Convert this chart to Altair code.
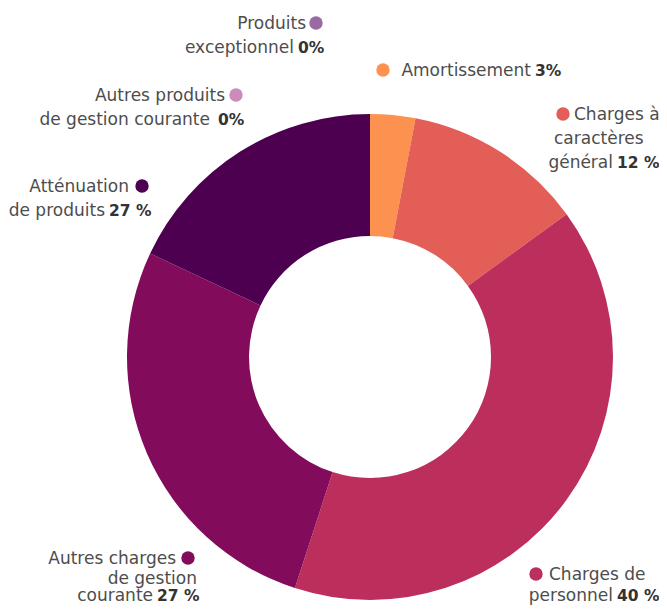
import altair as alt
import pandas as pd

# ---- data ----
categories = ["Amortissement", "Charges à caractères général", "Charges de personnel",
              "Autres charges de gestion courante", "Atténuation de produits",
              "Autres produits de gestion courante", "Produits exceptionnel"]
values = [3, 12, 40, 27, 18, 0, 0]
colors = ["#FD914F", "#E25E57", "#BC2F5C", "#820C5B", "#4D004F", "#CC8BBB", "#9A6AA3"]
pct_labels = ["3%", "12 %", "40 %", "27 %", "27 %", "0%", "0%"]

df = pd.DataFrame({"cat": categories, "val": values, "ord": list(range(len(categories)))})

# ---- layout (pixel positions of annotations, chart coords) ----
OX, OY = -8, -8
CX, CY = 370 + OX, 357 + OY

FONT = "DejaVu Sans"
FS = 17
FSB = 15.5
NORMAL = "#4d4d4d"
BOLD = "#333333"

# text pieces: (text, x, y, align, bold)
pieces = [
    ("Produits", 306, 24, "right", False),
    ("exceptionnel", 294, 48, "right", False),
    (pct_labels[6], 298, 48, "left", True),

    ("Autres produits", 225, 96, "right", False),
    ("de gestion courante", 210, 120, "right", False),
    (pct_labels[5], 218, 120, "left", True),

    ("Amortissement", 531, 71, "right", False),
    (pct_labels[0], 535, 71, "left", True),

    ("Charges à", 574, 115, "left", False),
    ("caractères", 554, 139, "left", False),
    ("général", 613, 163, "right", False),
    (pct_labels[1], 617, 163, "left", True),

    ("Atténuation", 129, 187, "right", False),
    ("de produits", 105, 211, "right", False),
    (pct_labels[4], 109, 211, "left", True),

    ("Autres charges", 176, 559, "right", False),
    ("de gestion", 197, 579, "right", False),
    ("courante", 153, 596, "right", False),
    (pct_labels[3], 157, 596, "left", True),

    ("Charges de", 549, 575, "left", False),
    ("personnel", 613, 596, "right", False),
    (pct_labels[2], 617, 596, "left", True),
]
dots = [  # (category index, x, y)
    (6, 316, 23), (5, 236, 95), (0, 383, 70), (1, 563, 114),
    (4, 142, 186), (3, 188, 558), (2, 536, 574),
]

tp = pd.DataFrame([{"t": t, "x": x + OX, "y": y + OY, "align": a, "bold": b}
                   for (t, x, y, a, b) in pieces])
dp = pd.DataFrame([{"cat": categories[i], "x": x + OX, "y": y + OY} for (i, x, y) in dots])

color_scale = alt.Scale(domain=categories, range=colors)

arc = alt.Chart(df).mark_arc(outerRadius=243, innerRadius=121).encode(
    theta=alt.Theta("val:Q", stack=True),
    color=alt.Color("cat:N", scale=color_scale, legend=None),
    order=alt.Order("ord:Q"),
    x=alt.value(CX), y=alt.value(CY),
)

def text_layer(align, bold):
    sub = tp[(tp["align"] == align) & (tp["bold"] == bold)]
    return alt.Chart(sub).mark_text(
        align=align, baseline="middle", font=FONT, fontSize=FSB if bold else FS,
        fontWeight="bold" if bold else "normal",
        color=BOLD if bold else NORMAL,
    ).encode(
        x=alt.X("x:Q", scale=None), y=alt.Y("y:Q", scale=None), text="t:N"
    )

dot_layer = alt.Chart(dp).mark_circle(size=180, opacity=1).encode(
    x=alt.X("x:Q", scale=None), y=alt.Y("y:Q", scale=None),
    color=alt.Color("cat:N", scale=color_scale, legend=None),
)

chart = alt.layer(
    arc,
    text_layer("right", False),
    text_layer("left", False),
    text_layer("left", True),
    dot_layer,
).properties(
    width=651, height=597, padding=0,
    autosize=alt.AutoSizeParams(type="none"),
).configure_view(stroke=None)

chart.save("out.html", embed_options={"renderer": "svg", "actions": False})
